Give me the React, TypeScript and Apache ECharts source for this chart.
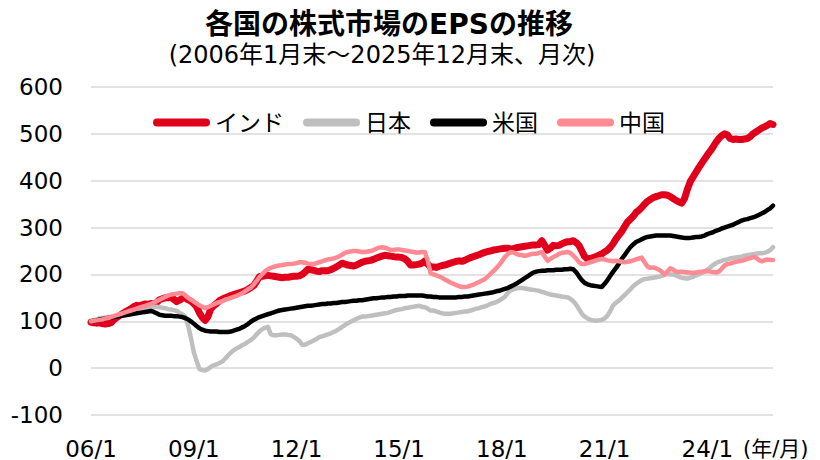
import React, { useEffect, useRef } from "react";
import * as echarts from "echarts";

const FONT = 'DejaVu Sans, "Noto Sans CJK JP", sans-serif';

const TITLE = "各国の株式市場のEPSの推移";
const SUBTITLE = "(2006年1月末～2025年12月末、月次)";
const UNIT_LABEL = "(年/月)";

const seriesNames = ["インド", "日本", "米国", "中国"];
const seriesColors = ["#E0001B", "#BFBFBF", "#000000", "#FF8A93"];

const startYear = 2006;
const endYear = 2025;
const tickLabels = ["06/1", "09/1", "12/1", "15/1", "18/1", "21/1", "24/1"];

// Monthly EPS index (2006/1 = 100), one row per year (Jan..Dec)
const india = [
  98, 97, 96, 97, 95, 94, 95, 97, 103, 108, 112, 116,
  120, 123, 127, 131, 134, 133, 135, 137, 136, 138, 137, 140,
  146, 148, 150, 150, 151, 147, 142, 145, 149, 150, 146, 143,
  138, 131, 118, 108, 102, 110, 127, 133, 138, 144, 147, 150,
  152, 155, 157, 159, 161, 163, 165, 168, 172, 176, 185, 195,
  196, 197, 198, 197, 196, 195, 194, 193, 194, 194, 195, 196,
  196, 197, 200, 205, 211, 210, 209, 207, 206, 208, 208, 208,
  210, 213, 216, 220, 224, 222, 220, 219, 218, 220, 223, 226,
  228, 229, 230, 232, 235, 237, 239, 241, 240, 239, 238, 237,
  237, 236, 233, 228, 220, 220, 221, 222, 224, 229, 222, 216,
  216, 215, 217, 219, 220, 222, 224, 226, 228, 229, 228, 230,
  233, 236, 238, 240, 242, 245, 247, 249, 250, 252, 253, 254,
  255, 256, 256, 254, 255, 257, 258, 259, 260, 261, 262, 263,
  263, 264, 272, 262, 252, 256, 262, 261, 262, 265, 268, 270,
  270, 272, 268, 262, 250, 238, 233, 234, 236, 238, 241, 244,
  248, 252, 258, 266, 276, 284, 292, 302, 312, 318, 324, 332,
  337, 343, 350, 356, 360, 364, 366, 368, 370, 370, 369, 366,
  362, 358, 355, 352, 362, 382, 398, 408, 418, 428, 437, 446,
  455, 463, 472, 482, 490, 496, 500, 498, 490, 488, 489, 488,
  488, 489, 490, 494, 500, 504, 508, 512, 515, 518, 522, 520,
];

const japan = [
  100, 102, 104, 106, 107, 108, 109, 110, 111, 112, 113, 114,
  115, 117, 118, 119, 121, 122, 124, 126, 128, 130, 131, 131,
  130, 129, 128, 126, 125, 124, 122, 118, 115, 110, 92, 65,
  35, 15, -2, -4, -5, -2, 3, 6, 8, 11, 14, 20,
  27, 33, 38, 42, 45, 49, 52, 56, 60, 65, 72, 78,
  83, 86, 88, 72, 70, 70, 71, 72, 72, 71, 70, 67,
  63, 58, 50, 50, 53, 56, 59, 62, 66, 68, 70, 72,
  74, 77, 80, 84, 88, 92, 96, 99, 102, 105, 108, 110,
  110, 111, 112, 113, 114, 115, 116, 117, 118, 120, 122, 124,
  125, 126, 128, 129, 130, 131, 132, 133, 131, 130, 127, 123,
  123, 121, 119, 117, 116, 116, 116, 117, 118, 119, 120, 121,
  121, 123, 125, 127, 128, 130, 132, 134, 137, 139, 141, 144,
  148, 152, 160, 166, 168, 170, 171, 171, 170, 169, 168, 167,
  166, 165, 163, 161, 159, 157, 156, 155, 154, 153, 152, 151,
  148, 143, 136, 126, 116, 110, 106, 103, 102, 101, 102, 103,
  106, 112, 122, 134, 140, 144, 150, 156, 162, 168, 175, 180,
  184, 188, 190, 191, 192, 193, 194, 195, 197, 199, 201, 200,
  200, 198, 195, 193, 192, 191, 193, 195, 198, 200, 203, 206,
  210, 215, 220, 224, 227, 229, 231, 232, 234, 235, 236, 237,
  238, 240, 241, 242, 243, 244, 245, 245, 246, 248, 252, 258,
];

const usa = [
  100, 101, 102, 104, 105, 106, 107, 108, 109, 110, 111, 112,
  113, 114, 115, 116, 117, 118, 119, 120, 121, 122, 120, 117,
  114, 113, 112, 112, 112, 111, 111, 110, 109, 107, 104, 100,
  95, 90, 85, 82, 80, 79, 78, 78, 78, 77, 77, 77,
  77, 78, 80, 82, 84, 87, 90, 94, 99, 103, 106, 109,
  111, 113, 115, 117, 119, 121, 123, 124, 125, 126, 127, 128,
  129, 130, 131, 132, 133, 133, 134, 135, 136, 137, 137, 138,
  138, 139, 139, 140, 141, 141, 142, 143, 144, 144, 145, 145,
  146, 147, 148, 149, 149, 150, 151, 151, 152, 152, 153, 153,
  154, 154, 154, 155, 155, 155, 155, 155, 155, 154, 153, 153,
  152, 152, 151, 151, 151, 151, 151, 151, 151, 152, 152, 153,
  153, 154, 155, 156, 157, 158, 159, 160, 161, 162, 164, 165,
  167, 169, 171, 174, 177, 180, 184, 188, 192, 196, 200, 204,
  206, 207, 208, 208, 209, 209, 209, 210, 210, 210, 211, 211,
  212, 211, 205, 196, 188, 182, 179, 177, 176, 175, 174, 173,
  180, 188, 197, 206, 214, 223, 233, 241, 250, 258, 264, 269,
  272, 275, 278, 280, 281, 282, 283, 283, 283, 283, 283, 283,
  282, 281, 280, 279, 278, 278, 278, 279, 280, 280, 281, 283,
  286, 288, 290, 293, 295, 298, 300, 302, 304, 306, 309, 312,
  315, 317, 318, 320, 322, 324, 327, 330, 333, 337, 341, 347,
];

const china = [
  100, 101, 102, 103, 104, 106, 107, 109, 111, 113, 115, 117,
  119, 121, 123, 125, 127, 129, 131, 133, 135, 137, 140, 143,
  146, 149, 152, 155, 157, 158, 159, 160, 160, 156, 150, 146,
  142, 138, 134, 131, 128, 130, 133, 136, 139, 141, 143, 146,
  148, 150, 152, 154, 157, 160, 164, 168, 172, 178, 186, 194,
  200, 207, 211, 214, 216, 218, 219, 220, 221, 222, 222, 223,
  224, 226, 226, 225, 223, 222, 222, 224, 226, 228, 230, 232,
  233, 234, 236, 239, 242, 246, 248, 249, 250, 250, 249, 248,
  248, 249, 250, 252, 255, 257, 258, 257, 255, 252, 252, 253,
  253, 252, 251, 250, 249, 248, 247, 247, 248, 248, 230, 203,
  200, 198, 196, 193, 189, 186, 183, 180, 177, 175, 173, 173,
  174, 176, 178, 181, 184, 187, 190, 195, 201, 207, 213, 220,
  228, 237, 243, 248, 247, 244, 242, 241, 240, 241, 243, 244,
  244, 246, 248, 238, 229, 233, 237, 240, 244, 246, 247, 248,
  246, 240, 234, 226, 222, 222, 224, 226, 228, 230, 232, 233,
  232, 230, 229, 228, 229, 228, 227, 226, 227, 228, 230, 232,
  234, 236, 226, 217, 214, 215, 213, 210, 206, 200, 206, 213,
  210, 206, 205, 206, 205, 204, 204, 203, 204, 205, 206, 207,
  207, 206, 205, 204, 206, 212, 219, 222, 223, 225, 227, 228,
  229, 231, 233, 235, 237, 236, 231, 228, 230, 232, 231, 231,
];

const seriesData = [india, japan, usa, china];
const lineWidths = [7, 4.5, 4.5, 4.5];

const months: string[] = [];
for (let y = startYear; y <= endYear; y++) {
  for (let m = 1; m <= 12; m++) {
    months.push(`${String(y % 100).padStart(2, "0")}/${m}`);
  }
}

const CAPSULE = "path://M4,0H53A4,4,0,0,1,53,8H4A4,4,0,0,1,4,0Z";

export default function App() {
  const ref = useRef<HTMLDivElement>(null);
  useEffect(() => {
    if (!ref.current) return;
    const chart = echarts.init(ref.current, undefined, { renderer: "svg" });
    chart.setOption({
      animation: false,
      backgroundColor: "#ffffff",
      textStyle: { fontFamily: FONT },
      grid: { left: 91, right: 47, top: 87, bottom: 45, containLabel: false },
      legend: {
        data: seriesNames.map((n) => ({ name: n, icon: CAPSULE })),
        left: 153,
        top: 111,
        padding: 0,
        itemWidth: 57,
        itemHeight: 8,
        itemGap: 19,
        textStyle: { fontSize: 23, color: "#000", fontFamily: FONT },
      },
      xAxis: {
        type: "category",
        data: months,
        boundaryGap: false,
        axisLine: { show: false },
        axisTick: { show: false },
        splitLine: { show: false },
        axisLabel: {
          interval: (idx: number, val: string) => tickLabels.includes(val),
          margin: 22,
          fontSize: 23,
          color: "#000",
          fontFamily: FONT,
        },
      },
      yAxis: {
        type: "value",
        min: -100,
        max: 600,
        interval: 100,
        axisLine: { show: false },
        axisTick: { show: false },
        axisLabel: { margin: 28, fontSize: 23, color: "#000", fontFamily: FONT },
        splitLine: { lineStyle: { color: "#D9D9D9", width: 1.5 } },
      },
      series: seriesNames.map((name, i) => ({
        name,
        type: "line",
        data: seriesData[i],
        showSymbol: false,
        symbol: "none",
        color: seriesColors[i],
        lineStyle: { color: seriesColors[i], width: lineWidths[i], cap: "round", join: "round" },
        z: 2 + i,
      })),
      graphic: [
        {
          type: "text",
          x: 389,
          y: 24,
          style: {
            text: TITLE,
            fontSize: 28,
            fontWeight: "bold",
            fontFamily: FONT,
            fill: "#000",
            align: "center",
            verticalAlign: "middle",
          },
        },
        {
          type: "text",
          x: 382,
          y: 55,
          style: {
            text: SUBTITLE,
            fontSize: 24,
            fontFamily: FONT,
            fill: "#000",
            align: "center",
            verticalAlign: "middle",
          },
        },
        {
          type: "text",
          x: 743,
          y: 449,
          style: {
            text: UNIT_LABEL,
            fontSize: 21,
            fontFamily: FONT,
            fill: "#000",
            align: "left",
            verticalAlign: "middle",
          },
        },
      ],
    });
    return () => chart.dispose();
  }, []);
  return (
    <div
      ref={ref}
      style={{ position: "fixed", left: 0, top: 0, width: 820, height: 460 }}
    />
  );
}
